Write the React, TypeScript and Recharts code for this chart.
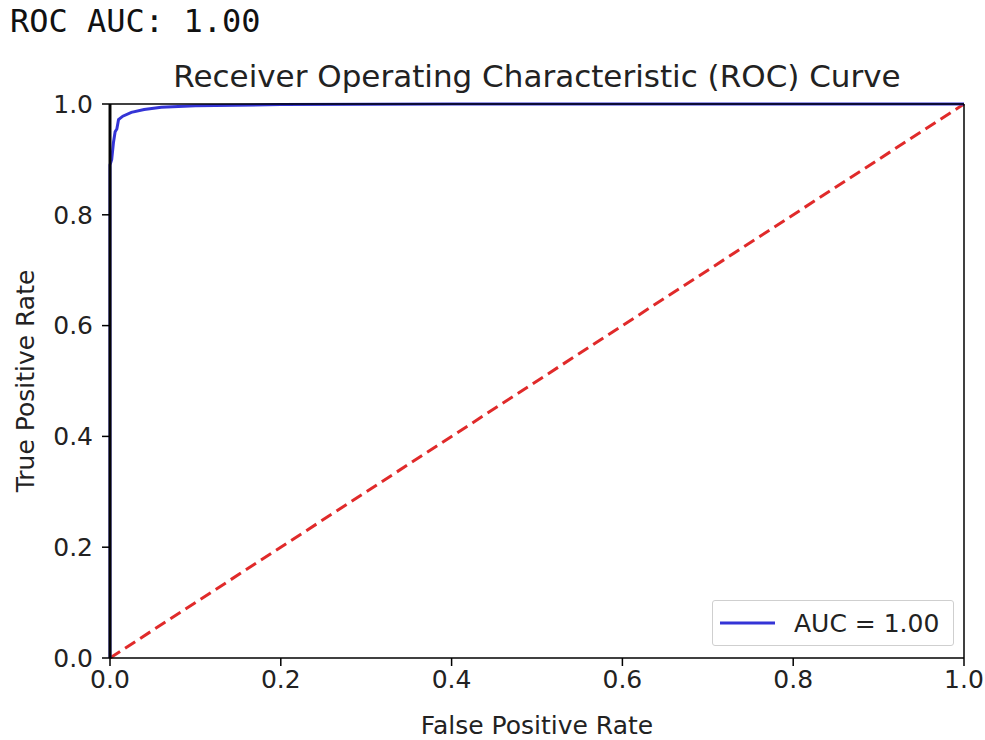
import { LineChart, Line, XAxis, YAxis, ReferenceLine, Legend } from "recharts";

// ROC curve points (false positive rate, true positive rate)
const rocFpr = [0, 0, 0.002, 0.004, 0.006, 0.008, 0.01, 0.015, 0.025, 0.04, 0.06, 0.1, 0.2, 0.4, 1.0];
const rocTpr = [0, 0.89, 0.9, 0.93, 0.95, 0.955, 0.972, 0.978, 0.985, 0.99, 0.994, 0.997, 0.999, 1.0, 1.0];

// chance diagonal
const chanceFpr = [0, 1];
const chanceTpr = [0, 1];

const axisTicks = [0, 0.2, 0.4, 0.6, 0.8, 1.0];
const aucScore = 1.0;

const rocData = rocFpr.map((fpr, i) => ({ fpr, tpr: rocTpr[i] }));
const chanceData = chanceFpr.map((fpr, i) => ({ fpr, tpr: chanceTpr[i] }));

const FONT = "'DejaVu Sans', sans-serif";
const BLUE = "#3434d6";
const RED = "#e02a2a";
const INK = "#222";

const LegendBox = () => (
  <div
    style={{
      boxSizing: "border-box",
      width: 242,
      height: 46,
      border: "1px solid #cfcfcf",
      borderRadius: 3,
      background: "#fff",
      display: "flex",
      alignItems: "center",
      fontFamily: FONT,
      fontSize: 25,
      color: INK,
    }}
  >
    <svg width={74} height={10} style={{ marginLeft: 7 }}>
      <line x1={0} y1={5} x2={55} y2={5} stroke={BLUE} strokeWidth={3} />
    </svg>
    <span>AUC = {aucScore.toFixed(2)}</span>
  </div>
);

export default function App() {
  return (
    <div style={{ position: "absolute", left: 0, top: 0, width: 985, height: 740, background: "#fff" }}>
      <div
        style={{
          position: "absolute",
          left: 10,
          top: 2,
          fontFamily: "'DejaVu Sans Mono', monospace",
          fontSize: 32,
          color: "#111",
        }}
      >
        ROC AUC: {aucScore.toFixed(2)}
      </div>
      <div
        style={{
          position: "absolute",
          left: 110,
          width: 854,
          top: 58,
          textAlign: "center",
          fontFamily: FONT,
          fontSize: 31,
          color: INK,
        }}
      >
        Receiver Operating Characteristic (ROC) Curve
      </div>
      <LineChart
        width={985}
        height={740}
        margin={{ top: 104, right: 21, bottom: 0, left: 0 }}
        style={{ position: "absolute", left: 0, top: 0 }}
      >
        <XAxis
          dataKey="fpr"
          type="number"
          domain={[0, 1]}
          ticks={axisTicks}
          tickFormatter={(v: number) => v.toFixed(1)}
          height={82}
          tickSize={8}
          tickMargin={4}
          stroke="#000"
          strokeWidth={1.5}
          tick={{ fill: INK, fontSize: 25, fontFamily: FONT }}
          label={{
            value: "False Positive Rate",
            position: "insideBottom",
            offset: 6,
            fill: INK,
            fontSize: 25,
            fontFamily: FONT,
          }}
        />
        <YAxis
          dataKey="tpr"
          type="number"
          domain={[0, 1]}
          ticks={axisTicks}
          tickFormatter={(v: number) => v.toFixed(1)}
          width={110}
          tickSize={8}
          tickMargin={9}
          stroke="#000"
          strokeWidth={1.5}
          tick={{ fill: INK, fontSize: 25, fontFamily: FONT }}
          label={{
            value: "True Positive Rate",
            angle: -90,
            position: "center",
            dx: -30,
            fill: INK,
            fontSize: 25,
            fontFamily: FONT,
          }}
        />
        <Line
          data={chanceData}
          dataKey="tpr"
          stroke={RED}
          strokeWidth={3}
          strokeDasharray="12 6"
          dot={false}
          legendType="none"
          isAnimationActive={false}
        />
        <Line
          data={rocData}
          dataKey="tpr"
          name={`AUC = ${aucScore.toFixed(2)}`}
          stroke={BLUE}
          strokeWidth={3}
          dot={false}
          isAnimationActive={false}
        />
        {/* frame drawn over the curves, like the plot spines */}
        <ReferenceLine x={0} stroke="#111" strokeWidth={3} />
        <ReferenceLine y={1} stroke="#000" strokeWidth={1.5} />
        <ReferenceLine x={1} stroke="#000" strokeWidth={1.5} />
        <Legend
          layout="vertical"
          align="center"
          verticalAlign="middle"
          content={() => <LegendBox />}
          wrapperStyle={{ position: "absolute", left: 712, top: 600, width: 242, height: 46 }}
        />
      </LineChart>
    </div>
  );
}
